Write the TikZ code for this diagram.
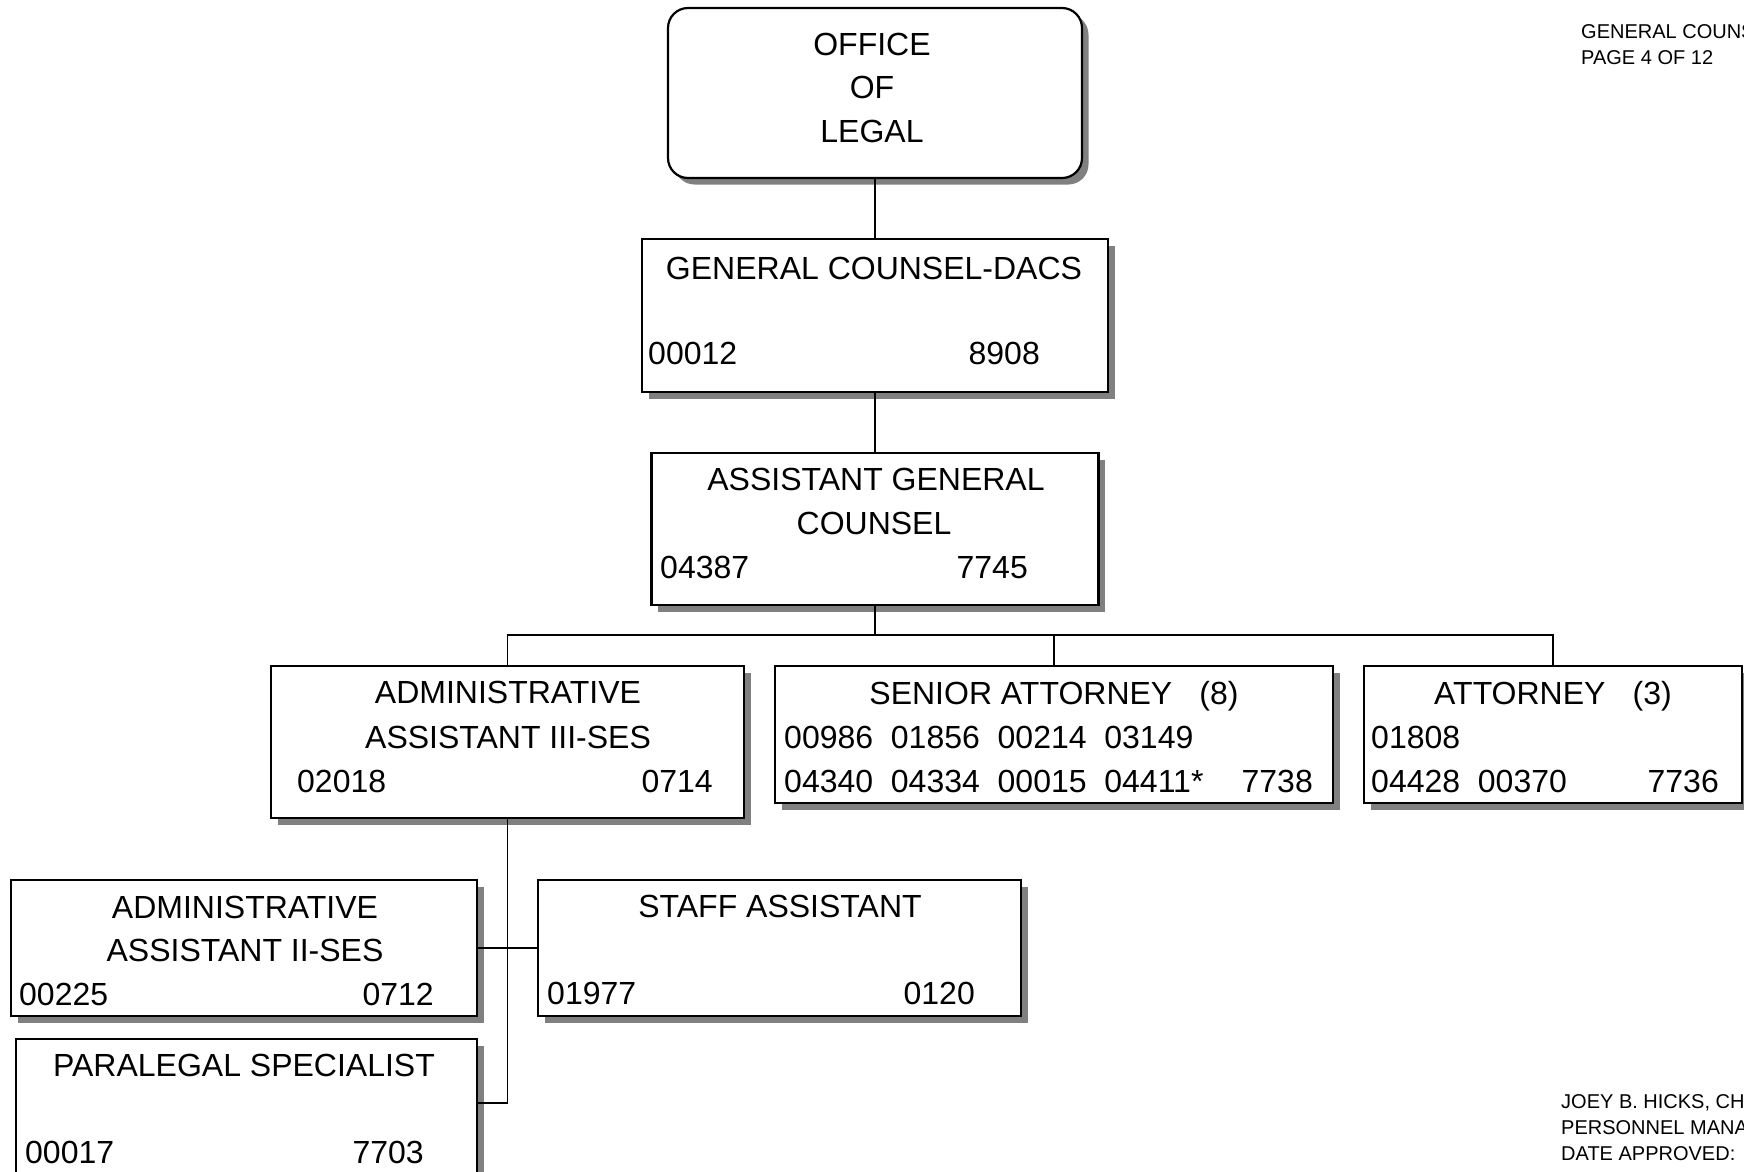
\documentclass[tikz,border=0pt]{standalone}
\usepackage{fontspec}
\setmainfont{Liberation Sans}
\usetikzlibrary{shadows}

\begin{document}
\begin{tikzpicture}[x=1pt, y=-1pt,
  box/.style={draw, line width=2.2pt, fill=white, inner sep=0pt, outer sep=0pt,
    drop shadow={shadow xshift=6.5pt, shadow yshift=-6.5pt, fill=black!50, opacity=1}},
  link/.style={line width=1.8pt},
  lbl/.style={inner sep=0pt, font=\fontsize{32}{38}\selectfont},
  small/.style={inner sep=0pt, anchor=base west, font=\fontsize{20}{24}\selectfont}]

\useasboundingbox (0,0) rectangle (1744,1171);
\clip (0,0) rectangle (1744,1171);

% position boxes
\node[box, rounded corners=20pt, minimum width=414pt, minimum height=170pt] (office) at (875,93) {};
\node[box, minimum width=466pt, minimum height=153pt] (gc) at (875,315.5) {};
\node[box, minimum width=447pt, minimum height=152pt] (agc) at (875,529) {};
\node[box, minimum width=473pt, minimum height=152pt] (admin3) at (507.5,742) {};
\node[box, minimum width=558pt, minimum height=137pt] (senior) at (1054,734.5) {};
\node[box, minimum width=378pt, minimum height=137pt] (atty) at (1553,734.5) {};
\node[box, minimum width=466pt, minimum height=136pt] (admin2) at (244,948) {};
\node[box, minimum width=483pt, minimum height=136pt] (staff) at (779.5,948) {};
\node[box, minimum width=461pt, minimum height=151pt] (para) at (246.5,1114.5) {};

% reporting lines
\coordinate (bus) at (875,635);
\draw[link] (office.south) -- (gc.north);
\draw[link] (gc.south) -- (agc.north);
\draw[link] (agc.south) -- (bus);
\draw[link] (admin3.north) |- (bus) -| (atty.north);
\draw[link] (senior.north) -- (senior.north |- bus);
\draw[link] (admin3.south) |- ([yshift=-64pt]para.north east);
\draw[link] (admin2.east) -- (staff.west);

% office
\node[lbl, anchor=base] (of1) at (872,55) {OFFICE};
\node[lbl, anchor=base] (of2) at (872,98) {OF};
\node[lbl, anchor=base] (of3) at (872,142) {LEGAL};

% general counsel
\node[lbl, anchor=base] (gc1) at (874,279) {GENERAL COUNSEL-DACS};
\node[lbl, anchor=base west] (gc2) at (648,364) {00012};
\node[lbl, anchor=base east] (gc3) at (1040,364) {8908};

% assistant general counsel
\node[lbl, anchor=base] (agc1) at (876,490) {ASSISTANT GENERAL};
\node[lbl, anchor=base] (agc2) at (874,534) {COUNSEL};
\node[lbl, anchor=base west] (agc3) at (660,578) {04387};
\node[lbl, anchor=base east] (agc4) at (1028,578) {7745};

% administrative assistant III
\node[lbl, anchor=base] (a31) at (508,703) {ADMINISTRATIVE};
\node[lbl, anchor=base] (a32) at (508,748) {ASSISTANT III-SES};
\node[lbl, anchor=base west] (a33) at (297,792) {02018};
\node[lbl, anchor=base east] (a34) at (713,792) {0714};

% senior attorney
\node[lbl, anchor=base] (sa1) at (1054,704) {SENIOR ATTORNEY\hspace{0.85em}(8)};
\node[lbl, anchor=base west] (sa2) at (784,748) {00986~~01856~~00214~~03149};
\node[lbl, anchor=base west] (sa3) at (784,792) {04340~~04334~~00015~~04411*};
\node[lbl, anchor=base east] (sa4) at (1313,792) {7738};

% attorney
\node[lbl, anchor=base] (at1) at (1553,704) {ATTORNEY\hspace{0.85em}(3)};
\node[lbl, anchor=base west] (at2) at (1371,748) {01808};
\node[lbl, anchor=base west] (at3) at (1371,792) {04428~~00370};
\node[lbl, anchor=base east] (at4) at (1719,792) {7736};

% administrative assistant II
\node[lbl, anchor=base] (a21) at (245,918) {ADMINISTRATIVE};
\node[lbl, anchor=base] (a22) at (245,961) {ASSISTANT II-SES};
\node[lbl, anchor=base west] (a23) at (19,1005) {00225};
\node[lbl, anchor=base east] (a24) at (434,1005) {0712};

% staff assistant
\node[lbl, anchor=base] (st1) at (780,917) {STAFF ASSISTANT};
\node[lbl, anchor=base west] (st2) at (547,1004) {01977};
\node[lbl, anchor=base east] (st3) at (975,1004) {0120};

% paralegal specialist
\node[lbl, anchor=base] (pl1) at (244,1076) {PARALEGAL SPECIALIST};
\node[lbl, anchor=base west] (pl2) at (25,1163) {00017};
\node[lbl, anchor=base east] (pl3) at (424,1163) {7703};

% page header and approval block
\node[small] (hd1) at (1581,38) {GENERAL COUNS};
\node[small] (hd2) at (1581,64) {PAGE 4 OF 12};
\node[small] (ap1) at (1561,1108) {JOEY B. HICKS, CH};
\node[small] (ap2) at (1561,1134) {PERSONNEL MANA};
\node[small] (ap3) at (1561,1160) {DATE APPROVED:};
\end{tikzpicture}
\end{document}
